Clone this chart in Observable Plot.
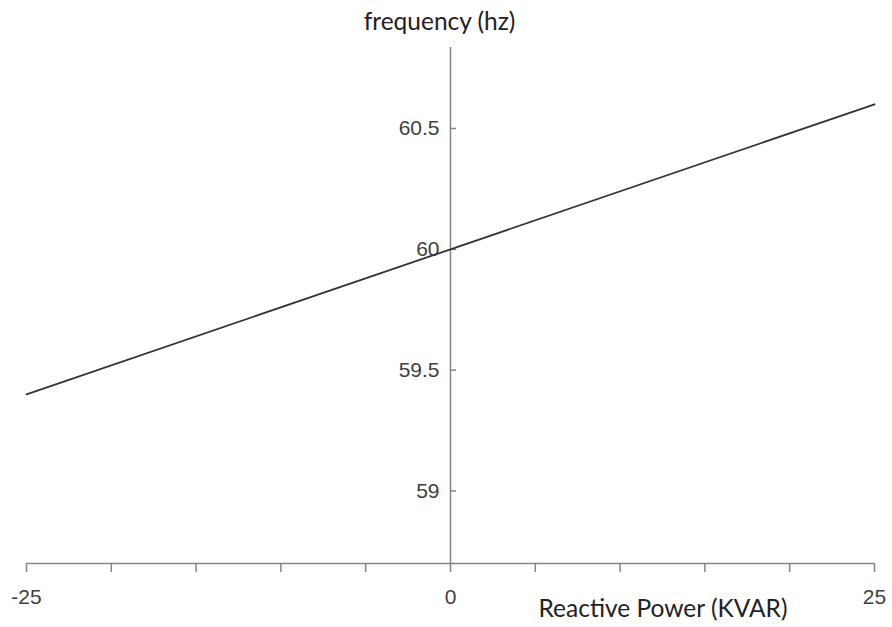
<!DOCTYPE html>
<html>
<head>
<meta charset="utf-8">
<script src="https://cdn.jsdelivr.net/npm/d3@7"></script>
<script src="https://cdn.jsdelivr.net/npm/@observablehq/plot@0.6"></script>
<style>
  html, body { margin: 0; padding: 0; background: #fff; }
  #chart svg { display: block; }
</style>
</head>
<body>
<div id="chart"></div>
<script>
const reactivePower = [-25, 0, 25];
const frequency = [59.4, 60, 60.6];
const xTicks = [-25, -20, -15, -10, -5, 0, 5, 10, 15, 20, 25];
const xLabelTicks = [-25, 0, 25];
const yTicks = [59, 59.5, 60, 60.5];
const yTickLabels = ["59", "59.5", "60", "60.5"];
const xDomain = [-25, 25];
const yDomain = [58.7, 60.835];
const xTitle = "Reactive Power (KVAR)";
const yTitle = "frequency (hz)";

const rows = reactivePower.map((x, i) => ({x, y: frequency[i]}));
const axisColor = "#858585";
const labelColor = "#404040";

const chart = Plot.plot({
  width: 892,
  height: 627,
  marginLeft: 26,
  marginRight: 18,
  marginTop: 47,
  marginBottom: 64,
  style: {fontFamily: "'Liberation Sans', Arial, sans-serif", fontSize: "21px", color: labelColor, background: "#fff"},
  x: {domain: xDomain},
  y: {domain: yDomain},
  marks: [
    Plot.ruleY([yDomain[0]], {stroke: axisColor, strokeWidth: 1.5}),
    Plot.ruleX([0], {stroke: axisColor, strokeWidth: 1.5}),
    Plot.axisX(xTicks, {anchor: "bottom", tickSize: 9, stroke: axisColor, strokeWidth: 1.5, tickFormat: null, text: null, fill: "none", label: null}),
    Plot.axisX(xLabelTicks, {anchor: "bottom", tickSize: 0, tickPadding: 26, fill: labelColor, label: null, tickFormat: d => String(d)}),
    Plot.axisY(yTicks, {x: 0, anchor: "right", tickSize: 5, stroke: axisColor, strokeWidth: 1.5, fill: "none", label: null}),
    Plot.axisY(yTicks, {x: 0, anchor: "left", tickSize: 0, tickPadding: 11, fill: labelColor, label: null, tickFormat: (d, i) => yTickLabels[yTicks.indexOf(d)]}),
    Plot.line(rows, {x: "x", y: "y", stroke: "#333333", strokeWidth: 1.8}),
    Plot.text([yTitle], {frameAnchor: "top", text: d => d, dx: -11, dy: -25, fontFamily: "Lato, sans-serif", fontSize: 24.5, fill: "#222", lineAnchor: "middle"}),
    Plot.text([xTitle], {frameAnchor: "bottom-right", text: d => d, dx: -87, dy: 46, textAnchor: "end", fontFamily: "Lato, sans-serif", fontSize: 24.5, fill: "#222", lineAnchor: "middle"})
  ]
});
document.getElementById("chart").appendChild(chart);
</script>
</body>
</html>
